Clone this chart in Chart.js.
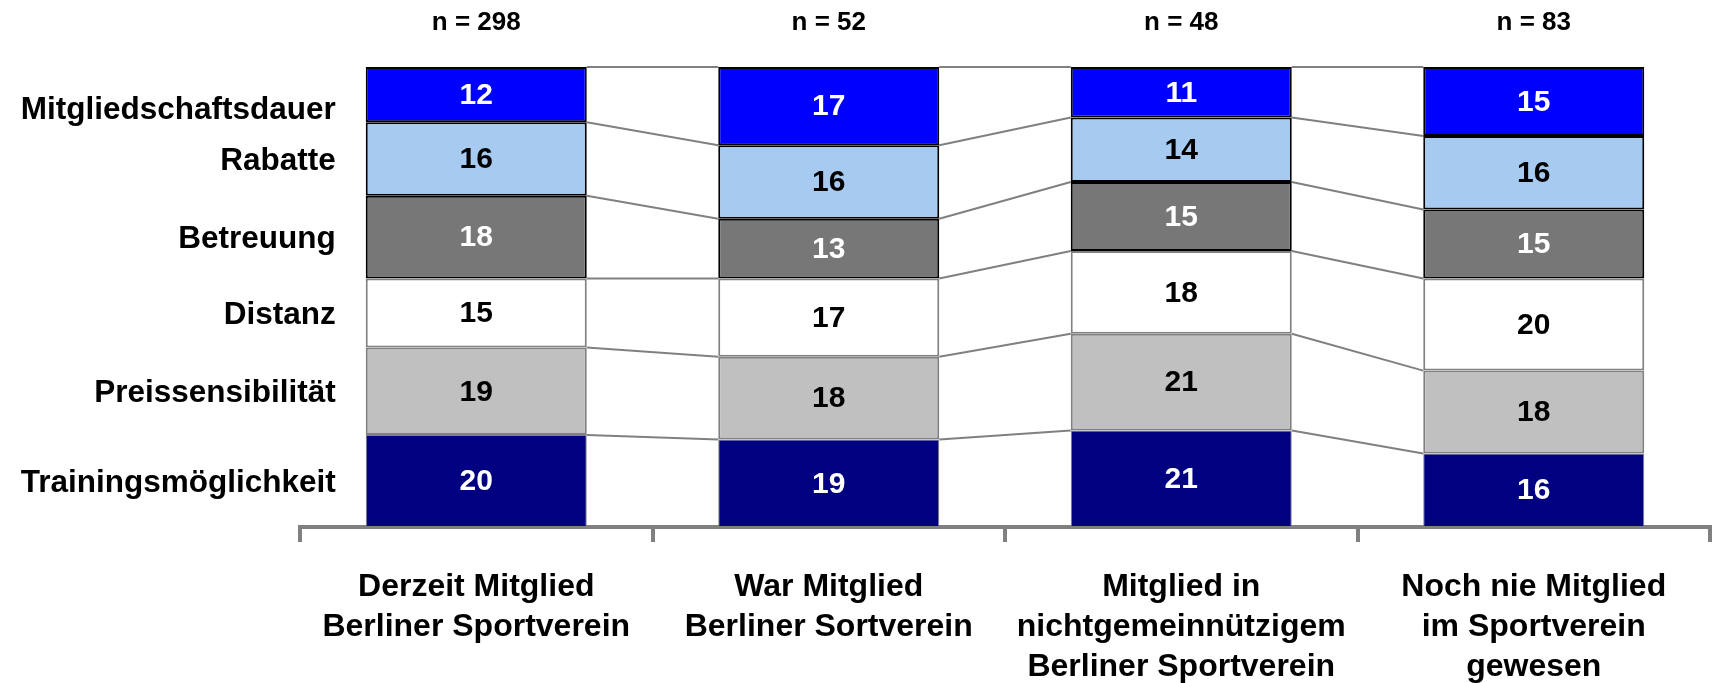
<!DOCTYPE html>
<html>
<head>
<meta charset="utf-8">
<script src="https://cdn.jsdelivr.net/npm/chart.js@4.4.0/dist/chart.umd.min.js"></script>
<style>
  body { margin: 0; background: #fff; }
  #wrap { width: 1713px; height: 683px; position: relative; }
</style>
</head>
<body>
<div id="wrap"><canvas id="myChart"></canvas></div>
<script>
// data (percent, stacked from bottom to top)
const groups = [
  ['Derzeit Mitglied', 'Berliner Sportverein'],
  ['War Mitglied', 'Berliner Sortverein'],
  ['Mitglied in', 'nichtgemeinnützigem', 'Berliner Sportverein'],
  ['Noch nie Mitglied', 'im Sportverein', 'gewesen']
];
const sampleSizes = [298, 52, 48, 83];

const seriesNames = ['Trainingsmöglichkeit', 'Preissensibilität', 'Distanz', 'Betreuung', 'Rabatte', 'Mitgliedschaftsdauer'];
const training = [20, 19, 21, 16];
const preis = [19, 18, 21, 18];
const distanz = [15, 17, 18, 20];
const betreuung = [18, 13, 15, 15];
const rabatte = [16, 16, 14, 16];
const dauer = [12, 17, 11, 15];

const FONT = '"Liberation Sans", Arial, sans-serif';

const styles = [
  { bg: '#000080', border: '#808080', bw: 1, text: '#fff' },
  { bg: '#c0c0c0', border: '#808080', bw: 2, text: '#000' },
  { bg: '#ffffff', border: '#808080', bw: 2, text: '#000' },
  { bg: '#777777', border: '#000000', bw: 2, text: '#fff' },
  { bg: '#a6caf0', border: '#000000', bw: 2, text: '#000' },
  { bg: '#0000ff', border: '#000000', bw: 2, text: '#fff' }
];

const allSeries = [training, preis, distanz, betreuung, rabatte, dauer];

let datasets = allSeries.map((vals, i) => ({
  label: seriesNames[i],
  data: vals,
  backgroundColor: styles[i].bg,
  borderColor: styles[i].border,
  borderWidth: styles[i].bw,
  borderSkipped: false,
  barPercentage: 0.627,
  categoryPercentage: 1
}));

// connecting lines between the stacks
const connectors = {
  id: 'connectors',
  beforeDatasetsDraw(chart) {
    const ctx = chart.ctx;
    ctx.save();
    ctx.strokeStyle = '#808080';
    ctx.lineWidth = 2;
    chart.data.datasets.forEach((ds, d) => {
      const bars = chart.getDatasetMeta(d).data;
      for (let i = 0; i < bars.length - 1; i++) {
        const a = bars[i], b = bars[i + 1];
        ctx.beginPath();
        ctx.moveTo(a.x + a.width / 2, a.y);
        ctx.lineTo(b.x - b.width / 2, b.y);
        ctx.stroke();
      }
    });
    ctx.restore();
  }
};

// numbers in the bars, series names on the left, n on top
const texts = {
  id: 'texts',
  afterDatasetsDraw(chart) {
    const ctx = chart.ctx;
    ctx.save();
    ctx.textBaseline = 'middle';
    chart.data.datasets.forEach((ds, d) => {
      const bars = chart.getDatasetMeta(d).data;
      ctx.textAlign = 'center';
      ctx.font = 'bold 30px ' + FONT;
      bars.forEach((bar, i) => {
        ctx.fillStyle = styles[d].text;
        ctx.fillText(ds.data[i], bar.x, (bar.y + bar.base) / 2 + 1);
      });
      // name next to first stack
      const first = bars[0];
      ctx.fillStyle = '#000';
      ctx.textAlign = 'right';
      ctx.font = 'bold 31.5px ' + FONT;
      let ly = (first.y + first.base) / 2;
      if (d === chart.data.datasets.length - 1) ly += 14;
      ctx.fillText(ds.label, first.x - first.width / 2 - 30, ly + 2);
    });
    const xs = chart.scales.x;
    ctx.textAlign = 'center';
    ctx.font = 'bold 26px ' + FONT;
    ctx.fillStyle = '#000';
    sampleSizes.forEach((n, i) => {
      ctx.fillText('n = ' + n, xs.getPixelForValue(i), 23);
    });
    ctx.restore();
  }
};

new Chart(document.getElementById('myChart'), {
  type: 'bar',
  data: { labels: groups, datasets: datasets },
  options: {
    responsive: true,
    maintainAspectRatio: false,
    animation: false,
    layout: { padding: { left: 300, right: 3, top: 67, bottom: 0 } },
    plugins: { legend: { display: false }, tooltip: { enabled: false } },
    scales: {
      x: {
        stacked: true,
        grid: { drawOnChartArea: false, drawTicks: true, tickLength: 15, color: '#808080', lineWidth: 4 },
        border: { display: true, color: '#808080', width: 4 },
        ticks: {
          autoSkip: false, maxRotation: 0, padding: 25, color: '#000',
          font: { family: FONT, size: 32, weight: 'bold', lineHeight: 1.25 }
        },
        afterFit(scale) { scale.height = 156; }
      },
      y: { stacked: true, min: 0, max: 100, display: false }
    }
  },
  plugins: [connectors, texts]
});
</script>
</body>
</html>
